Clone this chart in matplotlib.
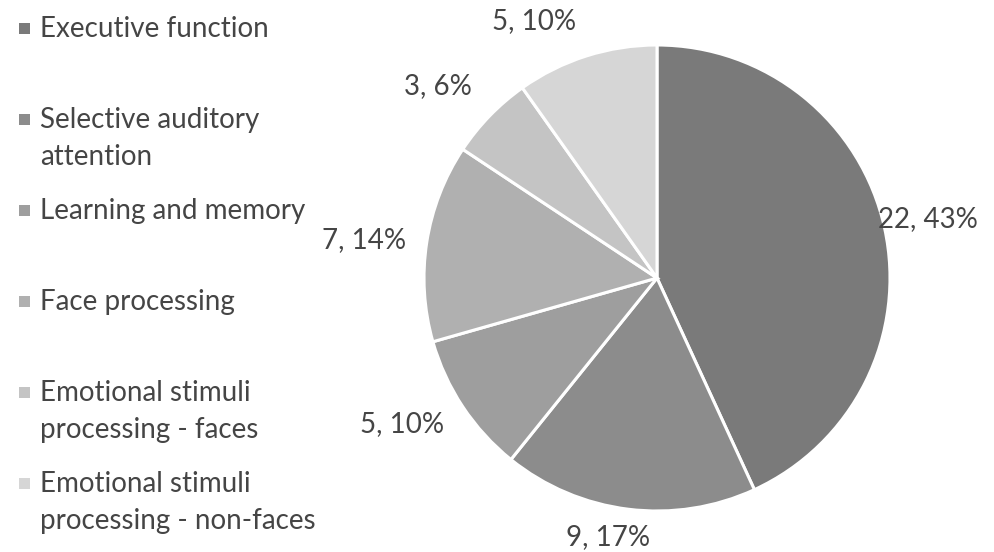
import numpy as np
import matplotlib.pyplot as plt
from matplotlib.patches import Rectangle

categories = ['Executive function', 'Selective auditory\nattention', 'Learning and memory',
              'Face processing', 'Emotional stimuli\nprocessing - faces',
              'Emotional stimuli\nprocessing - non-faces']
counts = [22, 9, 5, 7, 3, 5]
percent_labels = ['43%', '17%', '10%', '14%', '6%', '10%']
colors = ['#7a7a7a', '#8c8c8c', '#9e9e9e', '#b0b0b0', '#c4c4c4', '#d6d6d6']

# where Excel put each data label: nudge of angle (deg) and distance (in radii)
label_nudge = [0, -3.7, -3.7, 1.4, 2.8, 7.9]
label_dist = [1.19, 1.13, 1.26, 1.27, 1.25, 1.22]

plt.rcParams['font.family'] = ['Lato', 'DejaVu Sans']
text_color = '#454545'
font_size = 20

W, H = 995, 552
fig = plt.figure(figsize=(W / 100, H / 100), dpi=100)
ax = fig.add_axes([(657 - 233) / W, (H - 278 - 233) / H, 466 / W, 466 / H])

wedges, _ = ax.pie(counts, colors=colors, startangle=90, counterclock=False,
                   wedgeprops=dict(edgecolor='white', linewidth=2.2))
ax.set_xlim(-1, 1)
ax.set_ylim(-1, 1)
ax.set_aspect('equal')

for w, c, p, nudge, d in zip(wedges, counts, percent_labels, label_nudge, label_dist):
    theta = np.deg2rad((w.theta1 + w.theta2) / 2 + nudge)
    ax.text(d * np.cos(theta), d * np.sin(theta), f'{c}, {p}', ha='center', va='center',
            fontsize=font_size, color=text_color)

# legend drawn by hand to keep the even spacing of the original
first_baseline = 37
entry_step = 91
line_gap = 37
for i, (name, col) in enumerate(zip(categories, colors)):
    base = first_baseline + i * entry_step
    fig.add_artist(Rectangle((19 / W, 1 - (base - 3) / H), 11 / W, 11 / H,
                             transform=fig.transFigure, facecolor=col, edgecolor='none'))
    for j, line in enumerate(name.split('\n')):
        fig.text(40 / W, 1 - (base + j * line_gap) / H, line, ha='left', va='baseline',
                 fontsize=font_size, color=text_color)

fig.savefig('out.png', dpi=100)
